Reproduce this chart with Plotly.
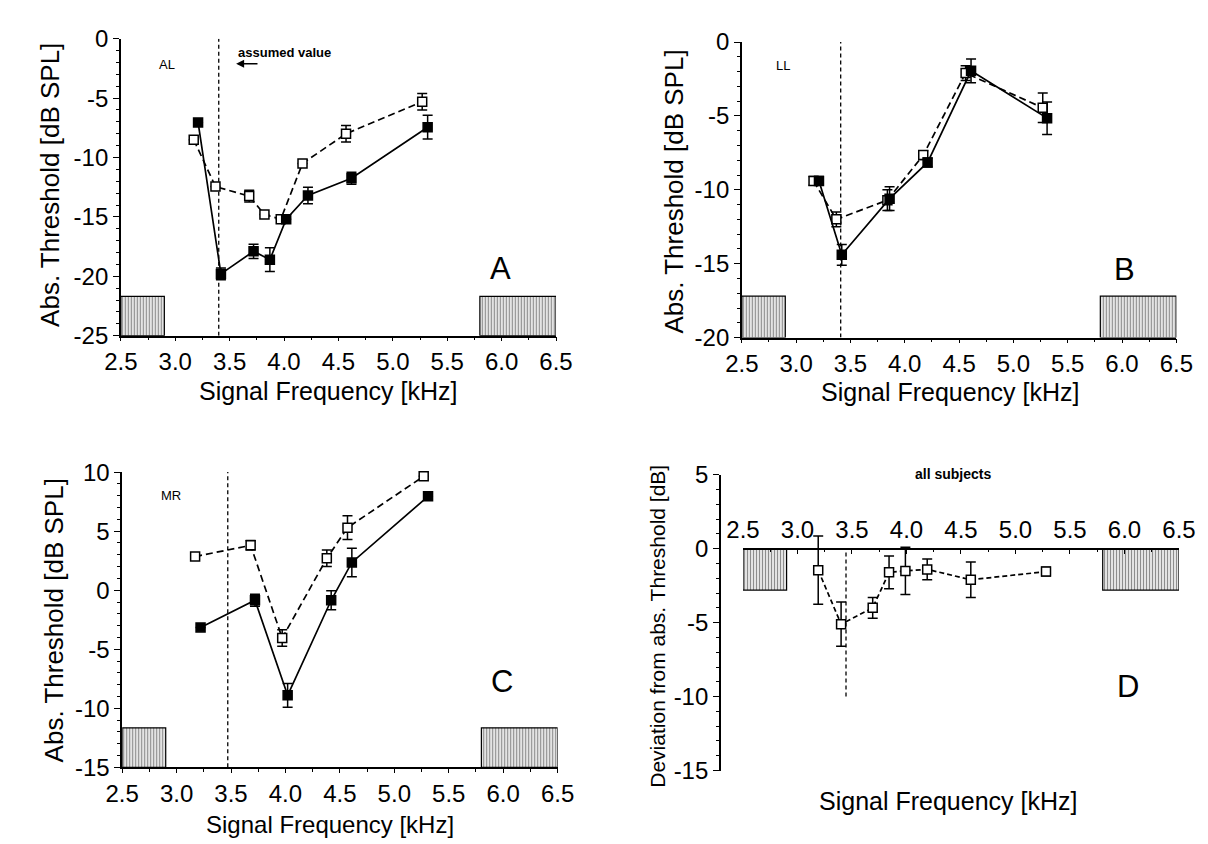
import plotly.graph_objects as go

# ---------------- data ----------------
# Panel A (AL)
a_open_x = [3.17, 3.37, 3.68, 3.82, 3.97, 4.17, 4.57, 5.27]
a_open_y = [-8.5, -12.45, -13.25, -14.8, -15.2, -10.5, -8.0, -5.3]
a_open_e = [0, 0, 0.5, 0, 0, 0, 0.7, 0.7]
a_fill_x = [3.21, 3.42, 3.72, 3.87, 4.02, 4.22, 4.62, 5.32]
a_fill_y = [-7.05, -19.8, -17.9, -18.6, -15.2, -13.2, -11.75, -7.45]
a_fill_e = [0, 0.5, 0.6, 1.0, 0, 0.7, 0.5, 1.0]

# Panel B (LL)
b_open_x = [3.16, 3.37, 3.84, 4.17, 4.56, 5.27]
b_open_y = [-9.4, -12.0, -10.7, -7.65, -2.1, -4.45]
b_open_e = [0.3, 0.5, 0.7, 0.3, 0.5, 1.0]
b_fill_x = [3.21, 3.42, 3.86, 4.21, 4.61, 5.31]
b_fill_y = [-9.4, -14.4, -10.6, -8.15, -1.95, -5.15]
b_fill_e = [0.3, 0.7, 0.8, 0.3, 0.8, 1.1]

# Panel C (MR)
c_open_x = [3.17, 3.68, 3.97, 4.38, 4.57, 5.27]
c_open_y = [2.85, 3.8, -4.05, 2.7, 5.3, 9.65]
c_open_e = [0, 0.4, 0.7, 0.7, 1.0, 0]
c_fill_x = [3.22, 3.72, 4.02, 4.42, 4.61, 5.31]
c_fill_y = [-3.15, -0.85, -8.9, -0.85, 2.35, 7.95]
c_fill_e = [0, 0.5, 1.0, 0.8, 1.2, 0]

# Panel D (all subjects)
d_x = [3.19, 3.40, 3.69, 3.84, 3.99, 4.19, 4.59, 5.28]
d_y = [-1.45, -5.1, -4.0, -1.6, -1.5, -1.4, -2.1, -1.55]
d_e = [2.3, 1.5, 0.7, 1.1, 1.6, 0.7, 1.2, 0.3]

# hatched bands (stimulus regions)
band_x0 = [2.5, 5.8]
band_x1 = [2.9, 6.5]
band_bottom = [-25, -20, -15, -2.8]
band_top = [-21.7, -17.2, -11.65, 0]

# assumed value (dashed line)
assumed_freq = [3.40, 3.41, 3.47, 3.445]
assumed_top = [0, 0, 10, 0]
assumed_bottom = [-25, -20, -15, -10]

y_ranges = [[-25, 0], [-20, 0], [-15, 10], [-15, 5]]
x_ticks = [2.5, 3.0, 3.5, 4.0, 4.5, 5.0, 5.5, 6.0, 6.5]
subject_labels = ["AL", "LL", "MR"]
panel_letters = ["A", "B", "C", "D"]

# ---------------- layout geometry (pixels) ----------------
W, H = 1208, 844
FONT = "Liberation Sans, Arial, sans-serif"


def fx(px):
    return px / W


def fy(py):
    return 1 - py / H


# plot boxes: (x0, x1, ytop, ybottom)
boxes = [(98.6, 546.4, 17.3, 324), (737.6, 1184.7, 20.7, 326),
         (100, 548, 465, 770), (738.8, 1187.4, 467.7, 773.3)]
D_YAXIS_PX = 715

fig = go.Figure()

suffix = ["", "2", "3", "4"]


def add_band_traces(i):
    xs = "x" + suffix[i]
    ys = "y" + suffix[i]
    centers = [(a + b) / 2 for a, b in zip(band_x0, band_x1)]
    widths = [b - a for a, b in zip(band_x0, band_x1)]
    fig.add_trace(go.Bar(
        x=centers, y=[band_top[i] - band_bottom[i]] * 2, base=[band_bottom[i]] * 2,
        width=widths, xaxis=xs, yaxis=ys, showlegend=False, hoverinfo="skip",
        marker=dict(color="white", line=dict(color="black", width=1.2),
                    pattern=dict(shape="|", fgcolor="#1a1a1a", bgcolor="white", size=3, solidity=0.5)),
    ))


def add_series(i, x, y, e, filled, dash):
    xs = "x" + suffix[i]
    ys = "y" + suffix[i]
    fig.add_trace(go.Scatter(
        x=x, y=y, xaxis=xs, yaxis=ys, mode="lines+markers", showlegend=False,
        cliponaxis=False,
        line=dict(color="black", width=1.7, dash=dash),
        marker=dict(symbol="square", size=9, color="black" if filled else "white",
                    line=dict(color="black", width=1.5)),
        error_y=dict(type="data", array=e, visible=True, color="black", thickness=1.5, width=5),
    ))


for i in range(4):
    add_band_traces(i)

add_series(0, a_open_x, a_open_y, a_open_e, False, "7px,4px")
add_series(0, a_fill_x, a_fill_y, a_fill_e, True, "solid")
add_series(1, b_open_x, b_open_y, b_open_e, False, "7px,4px")
add_series(1, b_fill_x, b_fill_y, b_fill_e, True, "solid")
add_series(2, c_open_x, c_open_y, c_open_e, False, "7px,4px")
add_series(2, c_fill_x, c_fill_y, c_fill_e, True, "solid")
add_series(3, d_x, d_y, d_e, False, "5px,3px")

layout = dict(
    width=W, height=H, margin=dict(l=0, r=0, t=0, b=0),
    paper_bgcolor="white", plot_bgcolor="rgba(0,0,0,0)",
    barmode="overlay", showlegend=False,
    font=dict(family=FONT, color="black"),
)

tick_font = dict(family=FONT, size=24, color="black")

for i, (x0, x1, yt, yb) in enumerate(boxes):
    xname = "xaxis" + suffix[i]
    yname = "yaxis" + suffix[i]
    yr = y_ranges[i]
    yvals = list(range(yr[0], yr[1] + 1, 5))
    xa = dict(
        domain=[fx(x0), fx(x1)], range=[2.5, 6.5], showgrid=False, zeroline=False,
        showline=True, linecolor="black", linewidth=1.5,
        tickvals=x_ticks, ticktext=[f"{v:.1f}" for v in x_ticks],
        ticks="outside", ticklen=4, tickwidth=1.3, tickcolor="black",
        minor=dict(ticks="outside", dtick=0.25, tick0=2.5, ticklen=3, tickwidth=1, tickcolor="black"),
        tickfont=tick_font, fixedrange=True,
    )
    ya = dict(
        domain=[fy(yb), fy(yt)], range=yr, showgrid=False, zeroline=False,
        showline=True, linecolor="black", linewidth=1.5,
        tickvals=yvals, ticktext=[f"{v:d}" for v in yvals],
        ticks="outside", ticklen=6, tickwidth=1.3, tickcolor="black",
        minor=dict(ticks="outside", dtick=1, tick0=0, ticklen=3, tickwidth=1, tickcolor="black"),
        tickfont=tick_font, fixedrange=True,
    )
    if i < 3:
        xa["anchor"] = "y" + suffix[i]
        ya["anchor"] = "x" + suffix[i]
    else:
        zero_py = yt + (yr[1] - 0) / (yr[1] - yr[0]) * (yb - yt)
        xa.update(anchor="free", position=fy(zero_py), side="top", ticks="inside", ticklen=5,
                  minor=dict(ticks="inside", dtick=0.25, tick0=2.5, ticklen=3, tickwidth=1, tickcolor="black"))
        ya.update(anchor="free", position=fx(D_YAXIS_PX))
    layout[xname] = xa
    layout[yname] = ya

fig.update_layout(**layout)

# dashed "assumed value" lines
for i in range(4):
    fig.add_shape(type="line", xref="x" + suffix[i], yref="y" + suffix[i],
                  x0=assumed_freq[i], x1=assumed_freq[i], y0=assumed_bottom[i], y1=assumed_top[i],
                  line=dict(color="black", width=1.3, dash="4px,3px"), layer="below")

ann = []
# axis titles
ytitle = "Abs. Threshold [dB SPL]"
xtitle = "Signal Frequency [kHz]"
ann.append(dict(text=ytitle, x=fx(25), y=fy(168), textangle=-90, font=dict(size=26)))
ann.append(dict(text=xtitle, x=fx(312), y=fy(381), font=dict(size=25)))
ann.append(dict(text=ytitle, x=fx(668), y=fy(175), textangle=-90, font=dict(size=26)))
ann.append(dict(text=xtitle, x=fx(952), y=fy(382), font=dict(size=25)))
ann.append(dict(text=ytitle, x=fx(30), y=fy(618), textangle=-90, font=dict(size=26)))
ann.append(dict(text=xtitle, x=fx(314), y=0, yanchor="bottom", font=dict(size=24), borderpad=0))
ann.append(dict(text="Deviation from abs. Threshold [dB]", x=fx(650), y=fy(624), textangle=-90,
                font=dict(size=21)))
ann.append(dict(text=xtitle, x=fx(950), y=fy(805), font=dict(size=25)))

# panel letters
letter_pos = [(489, 255), (1131, 256), (491, 681), (1135, 686)]
for L, (px, py) in zip(panel_letters, letter_pos):
    ann.append(dict(text=L, x=fx(px), y=fy(py), font=dict(size=31)))

# subject labels
label_pos = [(146, 44), (780, 45), (150, 489)]
for L, (px, py) in zip(subject_labels, label_pos):
    ann.append(dict(text=L, x=fx(px), y=fy(py), font=dict(size=13)))

ann.append(dict(text="<b>all subjects</b>", x=fx(955), y=fy(467), font=dict(size=14)))
ann.append(dict(text="<b>assumed value</b>", x=fx(217), y=fy(32), xanchor="left", font=dict(size=13)))

for a in ann:
    a.setdefault("xref", "paper")
    a.setdefault("yref", "paper")
    a.setdefault("showarrow", False)
    a.setdefault("xanchor", "center")
    a.setdefault("yanchor", "middle")
    a["font"] = dict(family=FONT, color="black", **a["font"])

# arrow for assumed value
ann.append(dict(xref="x", yref="y", x=3.56, y=-2.1, ax=3.77, ay=-2.1, axref="x", ayref="y",
                showarrow=True, arrowhead=2, arrowsize=1, arrowwidth=1.6, arrowcolor="black", text=""))

fig.update_layout(annotations=ann)

fig.write_html("out.html")
